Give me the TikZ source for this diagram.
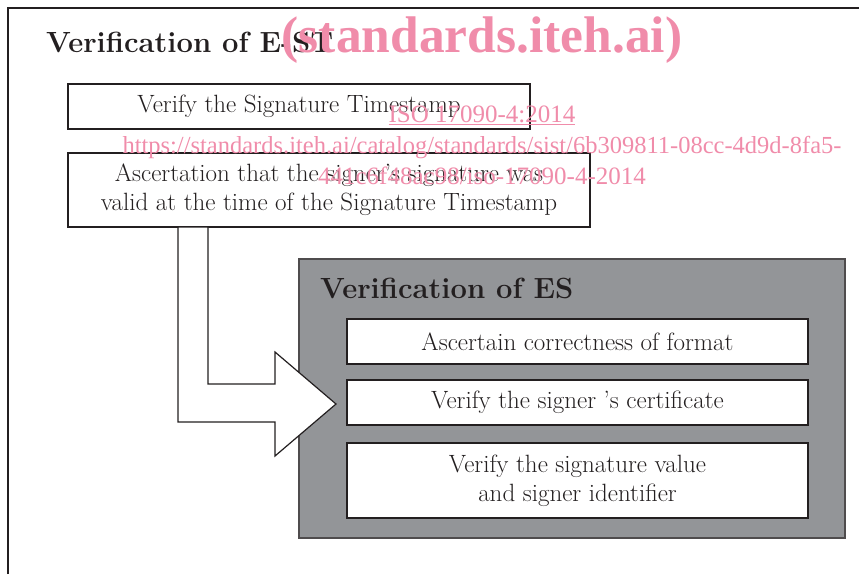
\documentclass[tikz,border=0pt]{standalone}
\usepackage{fontspec}
\newfontfamily\wmfont{Liberation Serif}
\usetikzlibrary{positioning}
\definecolor{inkgray}{HTML}{231F20}
\definecolor{panelgray}{HTML}{939598}
\definecolor{wmpink}{RGB}{240,140,170}
\begin{document}
\begin{tikzpicture}[x=1pt,y=-1pt,
	stepbox/.style={draw=inkgray,line width=1.2pt,fill=white,text=inkgray,align=center,inner sep=0pt,font=\fontsize{25}{29}\selectfont},
	headtext/.style={text=inkgray,inner sep=0pt,anchor=base west,font=\fontsize{29.2}{34}\selectfont\bfseries},
	wmtext/.style={text=wmpink,inner sep=0pt,anchor=base,font=\wmfont\fontsize{25}{30}\selectfont}]
		\useasboundingbox (0,0) rectangle (859,574);
		% Ramme
		\draw[inkgray,line width=1.3pt] (8,574) -- (8,8) -- (859,8);
		% Tittel E-ST
		\node[headtext] (estTitle) at (46,52) {Verification of E-ST};
		% Tidsstempel-bokser
		\node[stepbox,minimum width=462pt,minimum height=45pt] (tsBox) at (299,106.5) {Verify the Signature Timestamp};
		\node[stepbox,minimum width=522pt,minimum height=74pt] (ascBox) at (329,190) {Ascertation that the signer’s signature was\\valid at the time of the Signature Timestamp};
		% Panel ES
		\draw[draw=inkgray!80,line width=1.2pt,fill=panelgray] (299,259) rectangle (845,538);
		\node[headtext] (esTitle) at (320,298) {Verification of ES};
		\node[stepbox,minimum width=461pt,minimum height=45pt] (fmtBox) at (577.5,341.5) {Ascertain correctness of format};
		\node[stepbox,minimum width=461pt,minimum height=45pt] (certBox) at (577.5,402.5) {Verify the signer ’s certificate};
		\node[stepbox,minimum width=461pt,minimum height=75pt] (sigBox) at (577.5,480.5) {Verify the signature value\\ and signer identifier};
		% Blokkpil
		\coordinate (arrowTip) at (336,404);
		\draw[inkgray,line width=1.2pt,fill=white,line join=miter] (178,227) -- (208,227) -- (208,384) -- (275,384) -- (275,352) -- (arrowTip) -- (275,456) -- (275,422) -- (178,422) -- cycle;
		% Vannmerke
		\node[wmtext,font=\wmfont\bfseries\fontsize{51.5}{60}\selectfont] (wmSite) at (482,52) {(standards.iteh.ai)};
		\node[wmtext] (wmIso) at (482,122) {\underline{ISO 17090-4:2014}};
		\node[wmtext,font=\wmfont\fontsize{24.5}{30}\selectfont] (wmUrl) at (482,153) {https://standards.iteh.ai/catalog/standards/sist/6b309811-08cc-4d9d-8fa5-};
		\node[wmtext] (wmId) at (482,184) {441c6f48ac98/iso-17090-4-2014};
	\end{tikzpicture}
\end{document}
